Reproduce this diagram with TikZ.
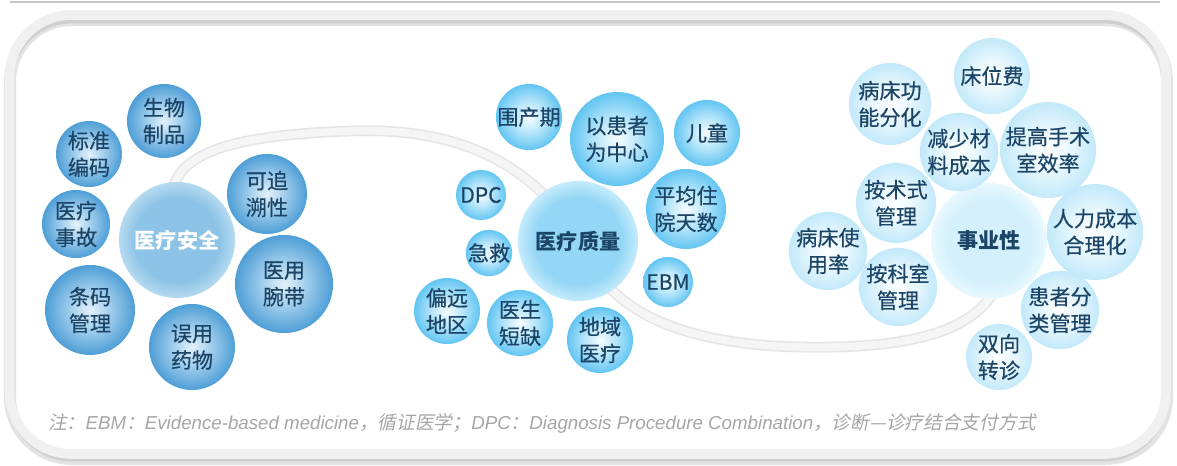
\documentclass[tikz,border=0pt]{standalone}
\usepackage{fontspec}
\usepackage{xcolor}
\newfontfamily\cjk{Noto Sans CJK SC}[FakeBold=0.5]
\newfontfamily\cjkbold{Noto Sans CJK SC}
\newfontfamily\notecjk{Noto Sans CJK SC}[FakeSlant=0.2]
\newfontfamily\notelat{Liberation Sans}
\newcommand{\notec}[1]{{\notecjk #1}}
\newcommand{\notel}[1]{{\notelat\itshape #1}}

\definecolor{lbIn}{HTML}{E4F1FA}
\definecolor{lbMid}{HTML}{9CCBEB}
\definecolor{lbOut}{HTML}{4E9ED6}
\definecolor{lbBig}{HTML}{8DC3E6}
\definecolor{lbBigOut}{HTML}{B5DAF1}
\definecolor{mbIn}{HTML}{F7FCFE}
\definecolor{mbMid}{HTML}{B5E5FA}
\definecolor{mbOut}{HTML}{62C5F2}
\definecolor{mbBig}{HTML}{94D6F5}
\definecolor{mbBigOut}{HTML}{C4EBFB}
\definecolor{rbIn}{HTML}{FFFFFF}
\definecolor{rbMid}{HTML}{E6F6FD}
\definecolor{rbOut}{HTML}{C2E9FA}
\definecolor{rbBig}{HTML}{D3F0FC}
\definecolor{rbBigOut}{HTML}{E9F8FE}
\definecolor{navy}{HTML}{1B4466}
\definecolor{notegray}{HTML}{A6A6A6}

\pgfdeclareradialshading{lsmall}{\pgfpoint{0bp}{0bp}}{color(0bp)=(lbIn); color(12bp)=(lbMid); color(25bp)=(lbOut); color(50bp)=(lbOut)}
\pgfdeclareradialshading{lbig}{\pgfpoint{0bp}{0bp}}{color(0bp)=(lbBig); color(18bp)=(lbBig); color(25bp)=(lbBigOut); color(50bp)=(lbBigOut)}
\pgfdeclareradialshading{msmall}{\pgfpoint{0bp}{0bp}}{color(0bp)=(mbIn); color(12bp)=(mbMid); color(25bp)=(mbOut); color(50bp)=(mbOut)}
\pgfdeclareradialshading{mbig}{\pgfpoint{0bp}{0bp}}{color(0bp)=(mbBig); color(18bp)=(mbBig); color(25bp)=(mbBigOut); color(50bp)=(mbBigOut)}
\pgfdeclareradialshading{rsmall}{\pgfpoint{0bp}{0bp}}{color(0bp)=(rbIn); color(12bp)=(rbMid); color(25bp)=(rbOut); color(50bp)=(rbOut)}
\pgfdeclareradialshading{rbig}{\pgfpoint{0bp}{0bp}}{color(0bp)=(rbBig); color(18bp)=(rbBig); color(25bp)=(rbBigOut); color(50bp)=(rbBigOut)}

\tikzset{
  ball/.style={circle, draw=none, inner sep=0pt, align=center, text=navy,
    font=\cjk\fontsize{15}{19}\selectfont, minimum size=#1*0.05cm},
  lball/.style={ball=#1, shading=lsmall},
  mball/.style={ball=#1, shading=msmall},
  rball/.style={ball=#1, shading=rsmall},
  hub/.style={ball=#1, font=\cjkbold\bfseries\fontsize{15}{19}\selectfont}
}

\newcommand{\swoosh}{(172,192) .. controls (180,150) and (240,135) .. (350,131)
  .. controls (480,126) and (550,180) .. (590,260)
  .. controls (620,320) and (700,345) .. (800,347)
  .. controls (900,349) and (970,335) .. (995,290)}

\begin{document}
\begin{tikzpicture}[x=0.025cm, y=-0.025cm]
\fill[white] (0,0) rectangle (1177,466);
\useasboundingbox (0,0) rectangle (1177,466);

% frame
\draw[gray!45, line width=0.03cm] (10,2) -- (1160,2);
\draw[gray!22, line width=0.3cm, rounded corners=1.55cm] (10,20) rectangle (1167,459);
\draw[gray!38, line width=0.12cm, rounded corners=1.55cm] (10,21) rectangle (1166,459);
\draw[gray!12, line width=0.24cm, rounded corners=1.55cm] (9.5,15) rectangle (1166,454);

% swoosh behind the balls
\draw[gray!20, line width=0.27cm, line cap=round] \swoosh;
\draw[gray!8, line width=0.19cm, line cap=round] \swoosh;

% safety
\node[hub=58, shading=lbig, text=white] (safety) at (177,240) {医疗安全};
\node[lball=37] (bio) at (164,121) {生物\\制品};
\node[lball=33] (code) at (89,154) {标准\\编码};
\node[lball=34] (accident) at (76,224) {医疗\\事故};
\node[lball=40] (trace) at (267,194) {可追\\溯性};
\node[lball=49] (band) at (284,284) {医用\\腕带};
\node[lball=45] (barcode) at (90,310) {条码\\管理};
\node[lball=43] (misuse) at (192,347) {误用\\药物};

% quality
\node[hub=60, shading=mbig] (quality) at (578,241) {医疗质量};
\node[mball=32] (perinatal) at (529,117) {围产期};
\node[mball=47] (patient) at (617,139) {以患者\\为中心};
\node[mball=33] (child) at (707,133) {儿童};
\node[mball=25] (dpc) at (481,195) {DPC};
\node[mball=40] (stay) at (686,209) {平均住\\院天数};
\node[mball=22] (rescue) at (489,253) {急救};
\node[mball=25] (ebm) at (668,282) {EBM};
\node[mball=33] (remote) at (447,311) {偏远\\地区};
\node[mball=33] (doctor) at (520,323) {医生\\短缺};
\node[mball=33] (region) at (600,340) {地域\\医疗};

% business
\node[hub=58, shading=rbig] (business) at (989,241) {事业性};
\node[rball=38] (bedfee) at (992,76) {床位费};
\node[rball=41] (bedfunc) at (890,104) {病床功\\能分化};
\node[rball=33] (material) at (959,152) {减少材\\料成本};
\node[rball=45] (theatre) at (1048,150) {提高手术\\室效率};
\node[rball=40] (method) at (896,203) {按术式\\管理};
\node[rball=40] (labour) at (1095,232) {人力成本\\合理化};
\node[rball=36] (bedrate) at (828,251) {病床使\\用率};
\node[rball=38] (dept) at (898,287) {按科室\\管理};
\node[rball=35] (triage) at (1060,310) {患者分\\类管理};
\node[rball=33] (referral) at (999,357) {双向\\转诊};

% note
\node[anchor=west, text=notegray, inner sep=0pt, font=\fontsize{13.3}{16}\selectfont] (note) at (48,423)
  {\notec{注：}\notel{EBM}\notec{：}\notel{Evidence-based medicine}\notec{，循证医学；}\notel{DPC}\notec{：}\notel{Diagnosis Procedure Combination}\notec{，诊断—诊疗结合支付方式}};
\end{tikzpicture}
\end{document}
